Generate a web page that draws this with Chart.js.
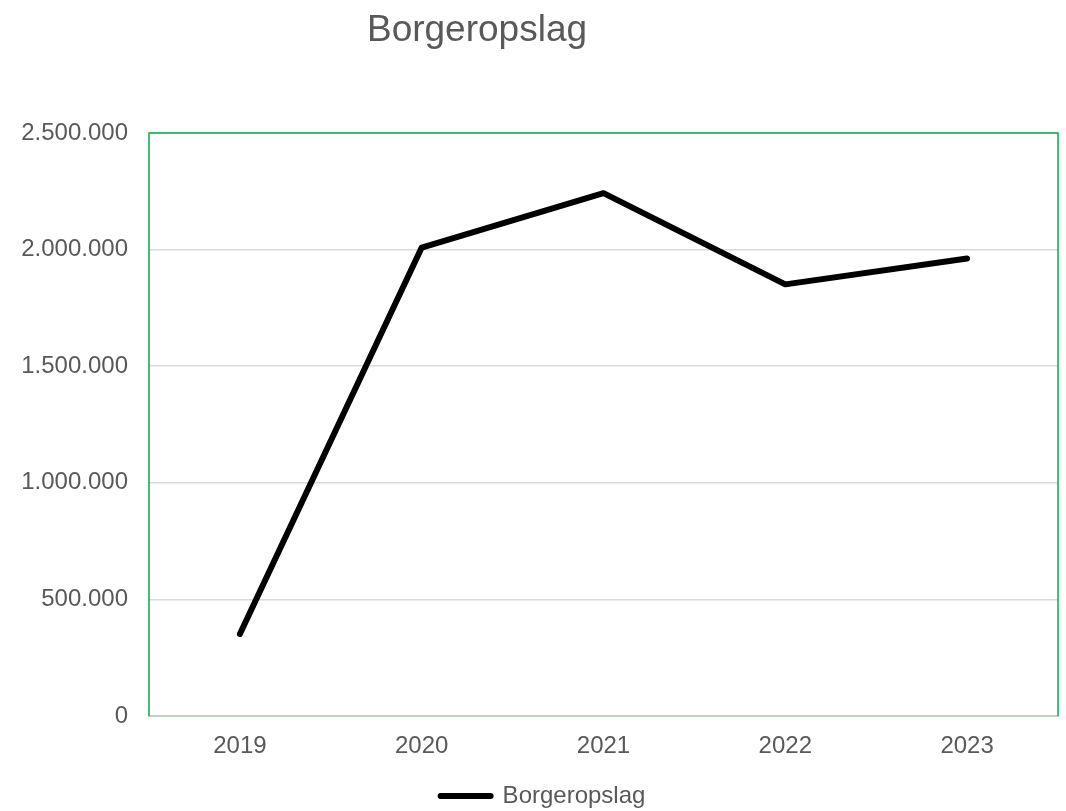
<!DOCTYPE html>
<html>
<head>
<meta charset="utf-8">
<title>Borgeropslag</title>
<script src="https://cdn.jsdelivr.net/npm/chart.js@4"></script>
<style>
    html, body { margin: 0; padding: 0; background: #fff; }
    #wrap { width: 1066px; height: 811px; }
</style>
</head>
<body>
<div id="wrap"><canvas id="lineChart"></canvas></div>
<script>
const years = ['2019', '2020', '2021', '2022', '2023'];
const lookups = [352000, 2009000, 2242000, 1851000, 1962000];
const seriesName = 'Borgeropslag';
const chartTitle = 'Borgeropslag';

/*////////////////////////////// helpers //////////////////////////////////*/

// 2500000 -> 2.500.000
function danishNumber(v) {
    return String(v).replace(/\B(?=(\d{3})+(?!\d))/g, '.');
}

// title is drawn a bit left of the canvas centre like the original
const titlePlugin = {
    id: 'offsetTitle',
    afterDraw(chart) {
        const ctx = chart.ctx;
        ctx.save();
        ctx.font = '37px "Liberation Sans", Arial, sans-serif';
        ctx.fillStyle = '#595959';
        ctx.textAlign = 'center';
        ctx.textBaseline = 'alphabetic';
        ctx.fillText(chartTitle, 477, 41);
        ctx.restore();
    }
};

// green frame round the plot area (left, top, right)
const framePlugin = {
    id: 'greenFrame',
    beforeDatasetsDraw(chart) {
        const a = chart.chartArea;
        const ctx = chart.ctx;
        ctx.save();
        ctx.strokeStyle = '#00b050';
        ctx.lineWidth = 1.5;
        ctx.beginPath();
        ctx.moveTo(a.left, a.bottom);
        ctx.lineTo(a.left, a.top);
        ctx.lineTo(a.right, a.top);
        ctx.lineTo(a.right, a.bottom);
        ctx.stroke();
        ctx.restore();
    }
};

// nudge the legend a little right and down, where the original has it
const legendNudge = {
    id: 'legendNudge',
    afterLayout(chart) {
        const lg = chart.legend;
        if (!lg) return;
        lg.left += 14;
        lg.right += 14;
        lg.top += 7;
        lg.bottom += 7;
    }
};

/*////////////////////////////// chart //////////////////////////////////*/

const ctx = document.getElementById('lineChart').getContext('2d');
new Chart(ctx, {
    type: 'line',
    data: {
        labels: years,
        datasets: [{
            label: seriesName,
            data: lookups,
            borderColor: '#000000',
            backgroundColor: '#000000',
            borderWidth: 6,
            borderCapStyle: 'round',
            borderJoinStyle: 'round',
            pointRadius: 0,
            tension: 0
        }]
    },
    options: {
        responsive: true,
        maintainAspectRatio: false,
        animation: false,
        layout: {
            padding: { top: 133, right: 8, bottom: 0, left: 0 }
        },
        scales: {
            x: {
                offset: true,
                grid: { display: false, drawTicks: false },
                border: { color: '#b9d7c3', width: 2 },
                ticks: {
                    color: '#595959',
                    padding: 16,
                    font: { family: '"Liberation Sans", Arial, sans-serif', size: 24 }
                },
                afterFit(scale) { scale.height = 61; }
            },
            y: {
                min: 0,
                max: 2500000,
                grid: { color: '#d9d9d9', lineWidth: 1.5, drawTicks: false },
                border: { display: false },
                ticks: {
                    stepSize: 500000,
                    color: '#595959',
                    padding: 21,
                    font: { family: '"Liberation Sans", Arial, sans-serif', size: 24 },
                    callback: value => danishNumber(value)
                },
                afterFit(scale) { scale.width = 149; }
            }
        },
        plugins: {
            title: { display: false },
            tooltip: { enabled: false },
            legend: {
                position: 'bottom',
                labels: {
                    color: '#595959',
                    boxWidth: 50,
                    boxHeight: 0,
                    padding: 0,
                    font: { family: '"Liberation Sans", Arial, sans-serif', size: 24 }
                }
            }
        }
    },
    plugins: [titlePlugin, framePlugin, legendNudge]
});
</script>
</body>
</html>
